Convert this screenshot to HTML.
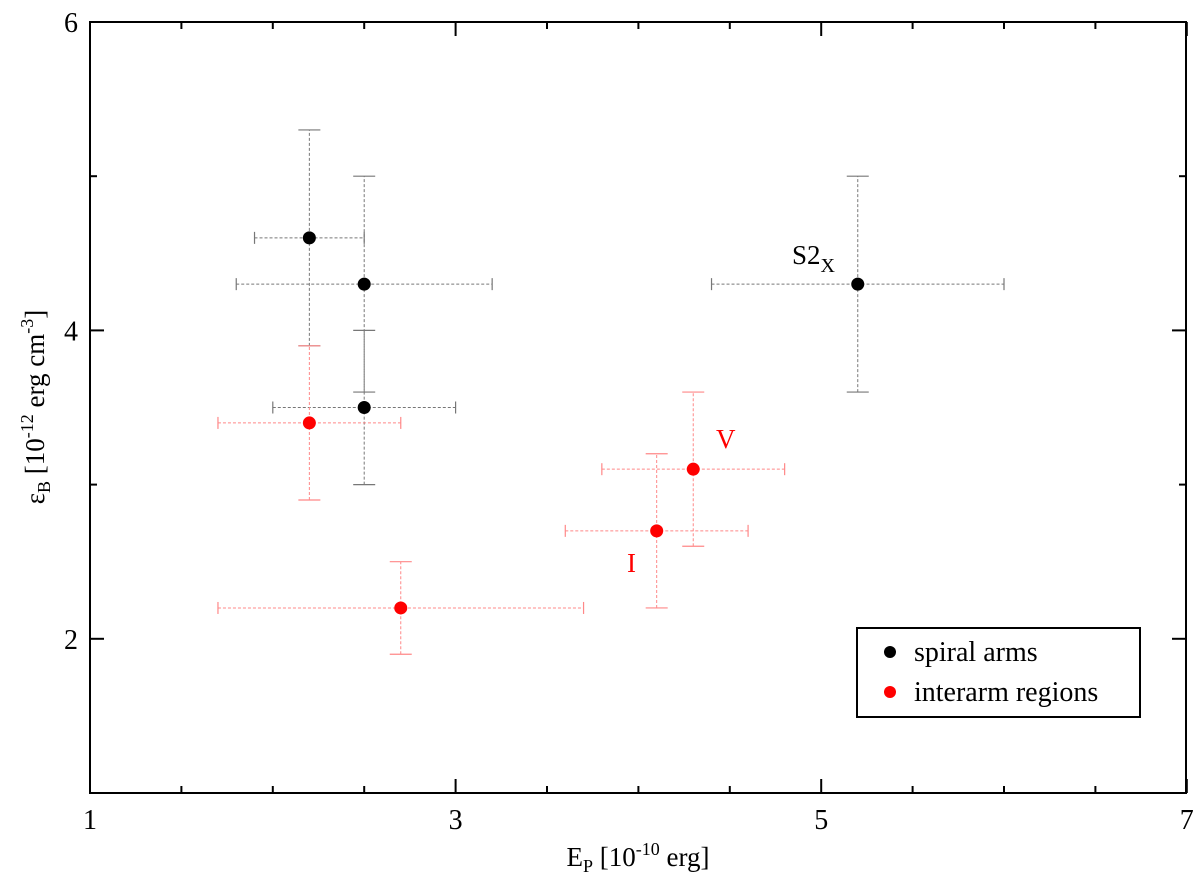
<!DOCTYPE html>
<html><head><meta charset="utf-8"><style>
body{margin:0;background:#fff}
svg text{font-family:"Liberation Serif",serif}
</style></head><body>
<svg id="chart" width="1200" height="884" xmlns="http://www.w3.org/2000/svg">
<g id="marks"></g>
<rect x="90" y="22" width="1096" height="771" fill="none" stroke="#000" stroke-width="2"/>
<g id="axes"></g>
<text x="638" y="866" font-size="27" text-anchor="middle">E<tspan font-size="18" dy="6">P</tspan><tspan dy="-6"> [10</tspan><tspan font-size="18" dy="-11">-10</tspan><tspan dy="11"> erg]</tspan></text>
<text transform="translate(44,407) rotate(-90)" font-size="27" text-anchor="middle">ε<tspan font-size="18" dy="6">B</tspan><tspan dy="-6"> [10</tspan><tspan font-size="18" dy="-11">-12</tspan><tspan dy="11"> erg cm</tspan><tspan font-size="18" dy="-11">-3</tspan><tspan dy="11">]</tspan></text>
<text x="792" y="264" font-size="27">S2<tspan font-size="20" dy="8">X</tspan></text>
<text x="716" y="448" font-size="27" fill="#f00">V</text>
<text x="627" y="572" font-size="27" fill="#f00">I</text>
<g>
<rect x="857" y="628" width="283" height="89" fill="#fff" stroke="#000" stroke-width="2"/>
<circle cx="890" cy="652" r="6" fill="#000"/>
<text x="914" y="661" font-size="28">spiral arms</text>
<circle cx="890" cy="692" r="6" fill="#f00"/>
<text x="914" y="701" font-size="28">interarm regions</text>
</g>
</svg>
<script>
const bx=[2.2,2.5,2.5,5.2], by=[4.6,4.3,3.5,4.3];
const bxlo=[1.9,1.8,2.0,4.4], bxhi=[2.5,3.2,3.0,6.0], bylo=[3.9,3.6,3.0,3.6], byhi=[5.3,5.0,4.0,5.0];
const rx=[2.2,2.7,4.1,4.3], ry=[3.4,2.2,2.7,3.1];
const rxlo=[1.7,1.7,3.6,3.8], rxhi=[2.7,3.7,4.6,4.8], rylo=[2.9,1.9,2.2,2.6], ryhi=[3.9,2.5,3.2,3.6];
const xTicks=[1,3,5,7], yTicks=[2,4,6];
const X=v=>90+(v-1)*182.8, Y=v=>793-(v-1)*154.2;
const NS="http://www.w3.org/2000/svg";
const mk=document.getElementById('marks'), ax=document.getElementById('axes');
function el(p,t,a){const e=document.createElementNS(NS,t);for(const k in a)e.setAttribute(k,a[k]);p.appendChild(e);return e;}
function series(xs,ys,xl,xh,yl,yh,col,ecol,name){
 for(let i=0;i<xs.length;i++){
  const g=el(mk,'g',{});
  
  
  const s={stroke:ecol,'stroke-width':1,'stroke-dasharray':'3,2',fill:'none'};
  el(g,'line',Object.assign({x1:X(xl[i]),x2:X(xh[i]),y1:Y(ys[i]),y2:Y(ys[i])},s));
  el(g,'line',Object.assign({x1:X(xs[i]),x2:X(xs[i]),y1:Y(yl[i]),y2:Y(yh[i])},s));
  const c={stroke:ecol,'stroke-width':1.2};
  el(g,'line',Object.assign({x1:X(xl[i]),x2:X(xl[i]),y1:Y(ys[i])-6,y2:Y(ys[i])+6},c));
  el(g,'line',Object.assign({x1:X(xh[i]),x2:X(xh[i]),y1:Y(ys[i])-6,y2:Y(ys[i])+6},c));
  el(g,'line',Object.assign({x1:X(xs[i])-11,x2:X(xs[i])+11,y1:Y(yl[i]),y2:Y(yl[i])},c));
  el(g,'line',Object.assign({x1:X(xs[i])-11,x2:X(xs[i])+11,y1:Y(yh[i]),y2:Y(yh[i])},c));
  el(g,'circle',{cx:X(xs[i]),cy:Y(ys[i]),r:6.5,fill:col});
 }
}
series(bx,by,bxlo,bxhi,bylo,byhi,'#000','#777','spiral-arm');
series(rx,ry,rxlo,rxhi,rylo,ryhi,'#f00','#f88','interarm');
for(let v=1;v<=7;v+=0.5){const maj=xTicks.includes(v), L=maj?14:7, xx=X(v);
 el(ax,'line',{x1:xx,x2:xx,y1:793,y2:793-L,stroke:'#000','stroke-width':2});
 el(ax,'line',{x1:xx,x2:xx,y1:22,y2:22+L,stroke:'#000','stroke-width':2});}
for(let v=1;v<=6;v+=1){const maj=yTicks.includes(v), L=maj?14:7, yy=Y(v);
 el(ax,'line',{x1:90,x2:90+L,y1:yy,y2:yy,stroke:'#000','stroke-width':2});
 el(ax,'line',{x1:1186,x2:1186-L,y1:yy,y2:yy,stroke:'#000','stroke-width':2});}
xTicks.forEach(v=>{const t=el(ax,'text',{x:X(v),y:829,'font-size':28,'text-anchor':'middle'});t.textContent=v;
 
 });
yTicks.forEach(v=>{const t=el(ax,'text',{x:78,y:Y(v)+10,'font-size':28,'text-anchor':'end'});t.textContent=v;
 
 });
</script>
</body></html>
